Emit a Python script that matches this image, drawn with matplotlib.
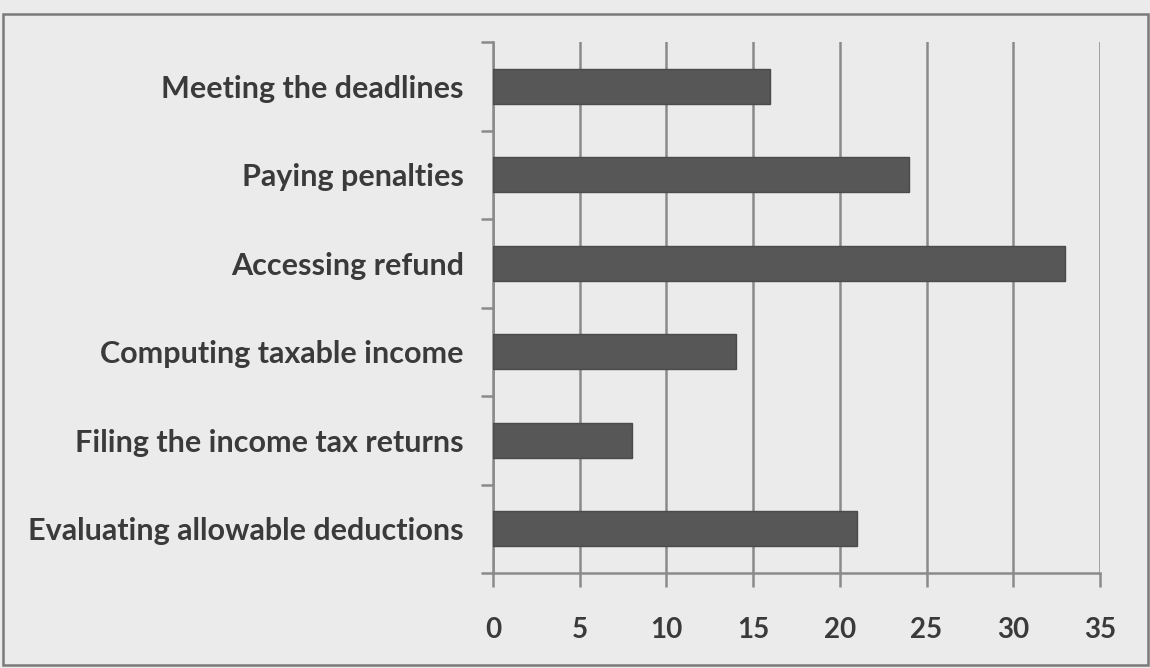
import matplotlib
matplotlib.use("Agg")
import matplotlib.pyplot as plt
from matplotlib.patches import Rectangle

# survey responses: problems met when dealing with income tax
categories = [
    "Evaluating allowable deductions",
    "Filing the income tax returns",
    "Computing taxable income",
    "Accessing refund",
    "Paying penalties",
    "Meeting the deadlines",
]
counts = [21, 8, 14, 33, 24, 16]
xticks = [0, 5, 10, 15, 20, 25, 30, 35]

paper = "#ebebeb"
ink = "#3a3a3a"
grid_gray = "#8a8a8a"

fig = plt.figure(figsize=(11.5, 6.68), dpi=100, facecolor=paper)
ax = fig.add_axes([0.4287, 0.1422, 0.5278, 0.7949])
ax.set_facecolor(paper)

ypos = list(range(len(categories)))
ax.barh(ypos, counts, height=0.4, color="#575757", edgecolor="#4a4a4a",
        linewidth=1, zorder=3)

ax.set_xlim(0, 35)
ax.set_ylim(-0.5, len(categories) - 0.5)
ax.set_xticks(xticks)
ax.set_xticklabels([str(t) for t in xticks])

# category labels sit between the boundary ticks
ax.set_yticks(ypos)
ax.set_yticklabels(categories)
ax.set_yticks([y - 0.5 for y in ypos] + [len(categories) - 0.5], minor=True)
ax.tick_params(axis="y", which="major", length=0, pad=21,
               labelsize=22, labelcolor=ink)
ax.tick_params(axis="y", which="minor", length=9, width=1.8, color=grid_gray)
ax.tick_params(axis="x", which="major", length=10, width=1.8, color=grid_gray,
               pad=22, labelsize=20, labelcolor=ink)
for lab in ax.get_yticklabels() + ax.get_xticklabels():
    lab.set_family(["Lato", "DejaVu Sans"])
    lab.set_fontweight("bold")

ax.grid(axis="x", color=grid_gray, linewidth=1.8, zorder=0)
for side in ["top", "right"]:
    ax.spines[side].set_visible(False)
for side in ["left", "bottom"]:
    ax.spines[side].set_color(grid_gray)
    ax.spines[side].set_linewidth(1.8)

# frame around the whole chart
W, H = 1150, 668
fig.patches.append(Rectangle((3 / W, 3 / H), 1145 / W, 651 / H,
                             transform=fig.transFigure, fill=False,
                             edgecolor="#7a7a7a", linewidth=1.8))

fig.savefig("out.png", dpi=100, facecolor=paper)
